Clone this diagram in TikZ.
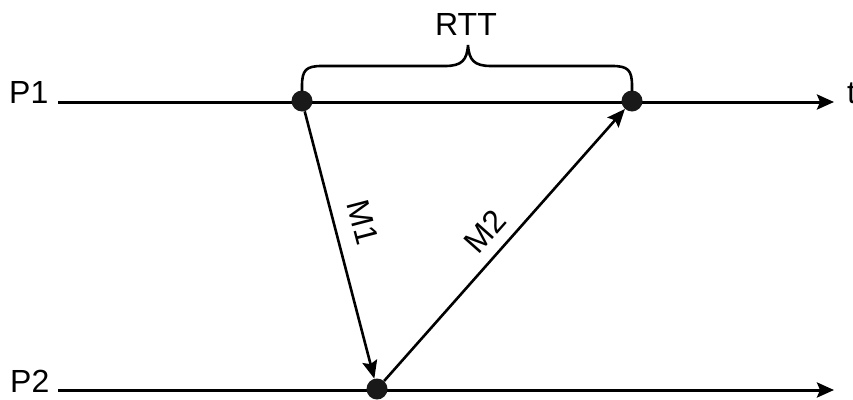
\documentclass[tikz,border=0pt]{standalone}
\usepackage{fontspec}
\setmainfont{Liberation Sans}
\usetikzlibrary{arrows.meta}
\begin{document}
\begin{tikzpicture}[x=1pt,y=-1pt,
  lbl/.style={inner sep=0pt, font=\fontsize{32}{38}\selectfont},
  dotnode/.style={circle, fill=black!90, inner sep=0pt, minimum size=21pt},
  timeline/.style={line width=3pt, -{Stealth[length=17pt,width=15pt,inset=3pt]}},
  msg/.style={line width=2.6pt, -{Stealth[length=18pt,width=15pt,inset=3pt]}},
  brace/.style={line width=2.6pt}]
\useasboundingbox (0,0) rectangle (853,399);
% time lines
\coordinate (p1s) at (58,102);
\coordinate (p1e) at (834,102);
\coordinate (p2s) at (58,390);
\coordinate (p2e) at (834,390);
\draw[timeline] (p1s) -- (p1e);
\draw[timeline] (p2s) -- (p2e);
% events
\node[dotnode] (a) at (302,101) {};
\node[dotnode] (b) at (632,101) {};
\node[dotnode] (c) at (377,389) {};
% messages
\draw[msg] (a) -- (c);
\draw[msg] (c) -- (b);
% labels
\node[lbl, anchor=base west] (P1) at (9,103) {P1};
\node[lbl, anchor=base west] (P2) at (10,392) {P2};
\node[lbl, anchor=base west] (t) at (847,103) {t};
\node[lbl, anchor=base] (rtt) at (466,35) {RTT};
\node[lbl, rotate=-75.4] (m1) at (363,222) {M1};
\node[lbl, rotate=48.5] (m2) at (485,231) {M2};
% brace
\draw[brace] (302,91) -- (302,86) .. controls (302,70) and (306,66) .. (322,66)
  -- (445,66) .. controls (462,66) and (467,60) .. (468,45)
  .. controls (469,60) and (474,66) .. (491,66)
  -- (612,66) .. controls (628,66) and (632,70) .. (632,86) -- (632,91);
\end{tikzpicture}
\end{document}
